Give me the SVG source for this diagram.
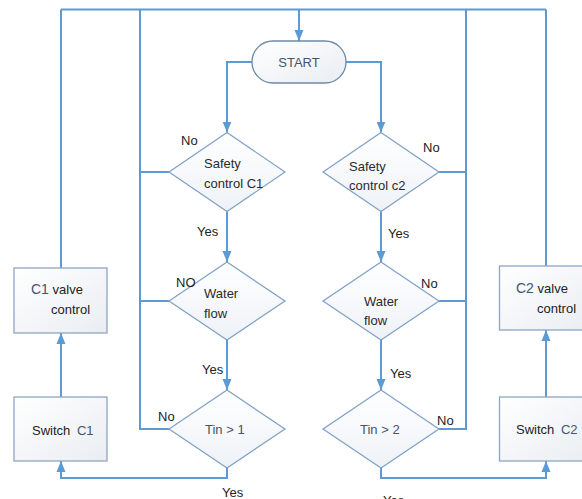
<svg xmlns="http://www.w3.org/2000/svg" width="582" height="499" viewBox="0 0 582 499">
<style>
.ln{fill:none;stroke:#5b9bd5;stroke-width:2}
.dia{fill:url(#gd);stroke:#7f9fc6;stroke-width:1.2}
.box{fill:url(#gb);stroke:#8ea5c2;stroke-width:1.3}
text{font-family:"Liberation Sans",Arial,sans-serif;font-size:13px;fill:#222}
.nt{fill:#2b2b2b}
.bl{fill:#44546a}
</style>
<defs>
<linearGradient id="gd" x1="0" y1="0" x2="0" y2="1"><stop offset="0" stop-color="#ffffff"/><stop offset="1" stop-color="#eef2f7"/></linearGradient>
<linearGradient id="gb" x1="0" y1="0" x2="1" y2="1"><stop offset="0" stop-color="#ffffff"/><stop offset="1" stop-color="#e9edf2"/></linearGradient>
<marker id="ar" markerUnits="userSpaceOnUse" markerWidth="12" markerHeight="12" viewBox="0 0 12 12" refX="11" refY="6" orient="auto"><path d="M0,1.5 L11,6 L0,10.5 Z" fill="#5b9bd5"/></marker>
</defs>
<g id="connectors">
<path class="ln" d="M61,9.5 H546"/>
<path class="ln" d="M299,9.5 V41" marker-end="url(#ar)"/>
<path class="ln" d="M252,62 H227 V132.5" marker-end="url(#ar)"/>
<path class="ln" d="M346,62 H381 V132.5" marker-end="url(#ar)"/>
<path class="ln" d="M227,211.5 V262" marker-end="url(#ar)"/>
<path class="ln" d="M227,340 V390" marker-end="url(#ar)"/>
<path class="ln" d="M381,211.5 V262" marker-end="url(#ar)"/>
<path class="ln" d="M381,340 V390" marker-end="url(#ar)"/>
<path class="ln" d="M140,9.5 V429 H169 M140,172 H169 M140,301 H169"/>
<path class="ln" d="M466,9.5 V429 H439 M439,172 H466 M439,301 H466"/>
<path class="ln" d="M227,468 V478 H61 V461" marker-end="url(#ar)"/>
<path class="ln" d="M61,397 V333" marker-end="url(#ar)"/>
<path class="ln" d="M61,268 V9.5"/>
<path class="ln" d="M381,468 V478 H546 V461" marker-end="url(#ar)"/>
<path class="ln" d="M546,397 V330" marker-end="url(#ar)"/>
<path class="ln" d="M546,266 V9.5"/>
</g>
<g id="start">
<rect x="252" y="41" width="94" height="42" rx="21" fill="url(#gb)" stroke="#6f88a6" stroke-width="1.3"/>
<text x="299" y="67" text-anchor="middle" class="bl" font-size="14">START</text>
</g>
<g id="safety1">
<polygon class="dia" points="227,132.5 285,172 227,211.5 169,172"/>
<text x="204" y="168" class="nt">Safety</text>
<text x="204" y="188" class="nt">control C1</text>
</g>
<g id="safety2">
<polygon class="dia" points="381,132.5 439,172 381,211.5 323,172"/>
<text x="349" y="171" class="nt">Safety</text>
<text x="349" y="190" class="nt">control c2</text>
</g>
<g id="water1">
<polygon class="dia" points="227,262 285,301 227,340 169,301"/>
<text x="204" y="298" class="nt">Water</text>
<text x="204" y="318" class="nt">flow</text>
</g>
<g id="water2">
<polygon class="dia" points="381,262 439,301 381,340 323,301"/>
<text x="364" y="306" class="nt">Water</text>
<text x="364" y="325" class="nt">flow</text>
</g>
<g id="tin1">
<polygon class="dia" points="227,390 285,429 227,468 169,429"/>
<text x="205" y="434" class="bl" font-size="14">Tin &gt; 1</text>
</g>
<g id="tin2">
<polygon class="dia" points="381,390 439,429 381,468 323,429"/>
<text x="360" y="434" class="bl" font-size="14">Tin &gt; 2</text>
</g>
<g id="valve1">
<rect class="box" x="14" y="268" width="93" height="65"/>
<text x="31" y="294"><tspan class="bl" font-size="14">C1</tspan><tspan> valve</tspan></text>
<text x="51" y="314">control</text>
</g>
<g id="switch1">
<rect class="box" x="14" y="397" width="93" height="64"/>
<text x="32" y="435">Switch <tspan class="bl" dx="3">C1</tspan></text>
</g>
<g id="valve2">
<rect class="box" x="499.5" y="266" width="93" height="64"/>
<text x="516" y="293"><tspan class="bl" font-size="14">C2</tspan><tspan> valve</tspan></text>
<text x="537" y="313">control</text>
</g>
<g id="switch2">
<rect class="box" x="499.5" y="397" width="93" height="64"/>
<text x="516" y="434">Switch <tspan class="bl" dx="3">C2</tspan></text>
</g>
<g id="labels">
<text x="181" y="145">No</text>
<text x="423" y="152">No</text>
<text x="197" y="236">Yes</text>
<text x="388" y="238">Yes</text>
<text x="176" y="287">NO</text>
<text x="421" y="288">No</text>
<text x="202" y="374">Yes</text>
<text x="390" y="378">Yes</text>
<text x="158" y="421">No</text>
<text x="437" y="425">No</text>
<text x="222" y="497">Yes</text>
<text x="383" y="505">Yes</text>
</g>
</svg>
